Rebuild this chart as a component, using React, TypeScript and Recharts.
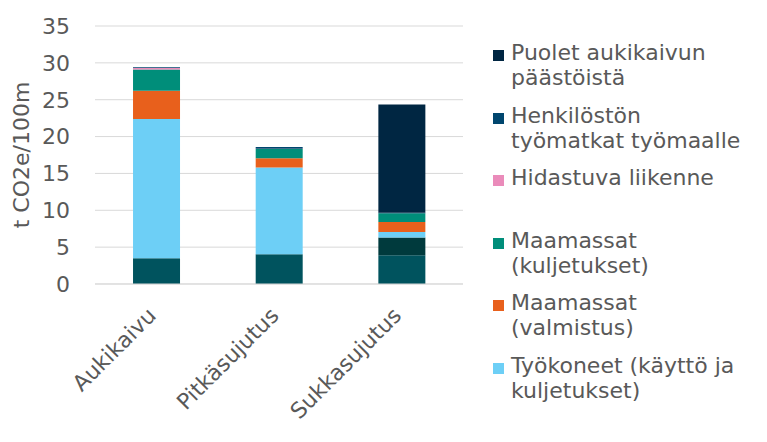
import { BarChart, Bar, XAxis, YAxis, CartesianGrid } from 'recharts'

const categories = ['Aukikaivu', 'Pitkäsujutus', 'Sukkasujutus']

const putket = [3.5, 4.05, 3.9]
const muutMateriaalit = [0, 0, 2.4]
const tyokoneet = [18.9, 11.75, 0.75]
const maamassatValmistus = [3.8, 1.25, 1.35]
const maamassatKuljetukset = [2.9, 1.25, 1.2]
const hidastuvaLiikenne = [0.2, 0.05, 0]
const henkilosto = [0.1, 0.25, 0.05]
const puoletAukikaivusta = [0, 0, 14.7]

const yTicks = [0, 5, 10, 15, 20, 25, 30, 35]

const SERIES = [
  { key: 'putket', name: 'Putket', color: '#00535E', values: putket },
  { key: 'muut', name: 'Muut materiaalit', color: '#003A3D', values: muutMateriaalit },
  { key: 'tyokoneet', name: 'Työkoneet (käyttö ja kuljetukset)', color: '#6DCFF6', values: tyokoneet },
  { key: 'mValmistus', name: 'Maamassat (valmistus)', color: '#E8601C', values: maamassatValmistus },
  { key: 'mKuljetus', name: 'Maamassat (kuljetukset)', color: '#008E7A', values: maamassatKuljetukset },
  { key: 'hidastuva', name: 'Hidastuva liikenne', color: '#EA8BBA', values: hidastuvaLiikenne },
  { key: 'henkilosto', name: 'Henkilöstön työmatkat työmaalle', color: '#00466E', values: henkilosto },
  { key: 'puolet', name: 'Puolet aukikaivun päästöistä', color: '#002642', values: puoletAukikaivusta },
]

// legend as shown in the picture (line breaks kept, blank slot after Hidastuva)
const legendItems = [
  { lines: ['Puolet aukikaivun', 'päästöistä'], color: '#002642' },
  { lines: ['Henkilöstön', 'työmatkat työmaalle'], color: '#00466E' },
  { lines: ['Hidastuva liikenne'], color: '#EA8BBA' },
  { lines: ['Maamassat', '(kuljetukset)'], color: '#008E7A' },
  { lines: ['Maamassat', '(valmistus)'], color: '#E8601C' },
  { lines: ['Työkoneet (käyttö ja', 'kuljetukset)'], color: '#6DCFF6' },
]

const data = categories.map((name, i) => {
  const row: any = { name }
  SERIES.forEach((s) => (row[s.key] = s.values[i]))
  return row
})

const FONT = 'DejaVu Sans, Verdana, sans-serif'
const TEXT = '#595959'
const FS = 22

const XTick = ({ x, y, payload }: any) => (
  <text
    x={x + 1}
    y={y + 25}
    transform={`rotate(-45, ${x + 1}, ${y + 25})`}
    textAnchor="end"
    fill={TEXT}
    fontSize={FS}
    fontFamily={FONT}
  >
    {payload.value}
  </text>
)

const App = () => {
  return (
    <div style={{ position: 'absolute', left: 0, top: 0, width: 767, height: 442, background: '#fff' }}>
      <BarChart
        width={767}
        height={442}
        data={data}
        margin={{ top: 26, right: 304, left: 0, bottom: 0 }}
        barCategoryGap="31%"
      >
        <CartesianGrid vertical={false} stroke="#D9D9D9" />
        <XAxis
          dataKey="name"
          tick={<XTick />}
          tickLine={false}
          axisLine={{ stroke: '#D9D9D9' }}
          height={158}
          interval={0}
        />
        <YAxis
          domain={[0, 35]}
          ticks={yTicks}
          width={95}
          tickLine={false}
          axisLine={false}
          tickMargin={19}
          tick={{ fill: TEXT, fontSize: FS, fontFamily: FONT }}
          label={{
            value: 't CO2e/100m',
            angle: -90,
            position: 'insideLeft',
            dx: 16,
            style: { fill: TEXT, fontSize: FS, fontFamily: FONT, textAnchor: 'middle' },
          }}
        />
        {SERIES.map((s) => (
          <Bar key={s.key} dataKey={s.key} name={s.name} stackId="a" fill={s.color} isAnimationActive={false} />
        ))}
      </BarChart>
      <div style={{ position: 'absolute', left: 493, top: 40, fontFamily: FONT, fontSize: FS, color: TEXT }}>
        {legendItems.map((item, i) => (
          <div key={i} style={{ position: 'relative', height: 62.5, paddingLeft: 18 }}>
            <div
              style={{ position: 'absolute', left: 0, top: 10, width: 11, height: 11, background: item.color }}
            />
            {item.lines.map((l, j) => (
              <div key={j} style={{ lineHeight: '25px', whiteSpace: 'nowrap' }}>
                {l}
              </div>
            ))}
          </div>
        ))}
      </div>
    </div>
  )
}

export default App
